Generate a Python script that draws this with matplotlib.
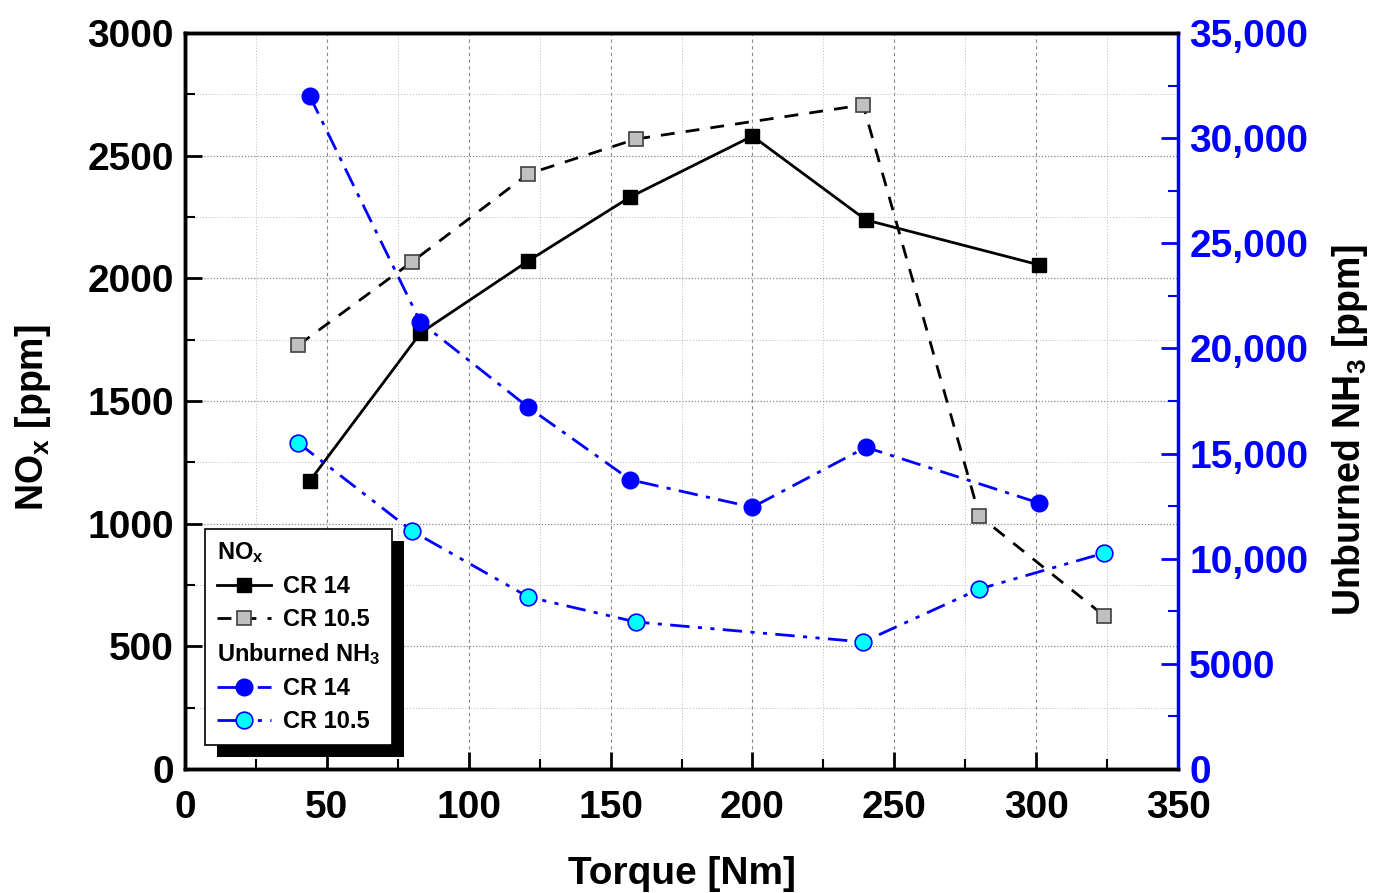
import matplotlib
matplotlib.use("Agg")
import matplotlib.pyplot as plt
from matplotlib.lines import Line2D
from matplotlib.patches import Rectangle
from matplotlib.ticker import MultipleLocator

plt.rcParams['font.family'] = ['Liberation Sans', 'DejaVu Sans']
plt.rcParams['font.weight'] = 'bold'
plt.rcParams['mathtext.fontset'] = 'custom'
plt.rcParams['mathtext.rm'] = 'Liberation Sans:bold'
plt.rcParams['mathtext.bf'] = 'Liberation Sans:bold'
plt.rcParams['mathtext.it'] = 'Liberation Sans:bold'
plt.rcParams['mathtext.default'] = 'bf'

# ---- data ----
torque_cr14 = [44, 83, 121, 157, 200, 240, 301]
torque_cr105 = [40, 80, 121, 159, 239, 280, 324]
nox_cr14 = [1174, 1777, 2071, 2332, 2580, 2238, 2055]
nox_cr105 = [1728, 2067, 2426, 2568, 2707, 1031, 624]
nh3_cr14 = [32000, 21250, 17200, 13750, 12450, 15300, 12650]
nh3_cr105 = [15500, 11320, 8180, 6990, 6040, 8560, 10270]
right_ticks = [0, 5000, 10000, 15000, 20000, 25000, 30000, 35000]
right_ticklabels = ['0', '5000', '10,000', '15,000', '20,000', '25,000', '30,000', '35,000']
left_ticks = [0, 500, 1000, 1500, 2000, 2500, 3000]
x_ticks = [0, 50, 100, 150, 200, 250, 300, 350]

BLUE = '#0000FF'
fig = plt.figure(figsize=(13.74, 8.93), dpi=100)
ax = fig.add_axes([0.1346, 0.1389, 0.7228, 0.8241])
ax2 = ax.twinx()

# grid
ax.set_axisbelow(True)
ax.grid(which='major', axis='x', color='#888888', linestyle=(0, (3, 3)), linewidth=0.8)
ax.grid(which='minor', axis='x', color='#bbbbbb', linestyle=(0, (1, 2)), linewidth=0.7)
ax.grid(which='major', axis='y', color='#888888', linestyle=(0, (1, 1.5)), linewidth=0.9)
ax.grid(which='minor', axis='y', color='#bbbbbb', linestyle=(0, (1, 2)), linewidth=0.7)

l1, = ax.plot(torque_cr14, nox_cr14, color='black', linestyle='-', linewidth=2,
              marker='s', markersize=10, markerfacecolor='black', markeredgecolor='black')
l2, = ax.plot(torque_cr105, nox_cr105, color='black', linestyle=(0, (5, 4)), linewidth=2,
              marker='s', markersize=10, markerfacecolor='#c0c0c0', markeredgecolor='#404040',
              markeredgewidth=1.2)
l3, = ax2.plot(torque_cr14, nh3_cr14, color=BLUE, linestyle=(0, (7, 3, 1.5, 3)), linewidth=2,
               marker='o', markersize=12, markerfacecolor=BLUE, markeredgecolor=BLUE)
l4, = ax2.plot(torque_cr105, nh3_cr105, color=BLUE, linestyle=(0, (7, 3, 1.5, 3, 1.5, 3)), linewidth=2,
               marker='o', markersize=12, markerfacecolor='#00FFFF', markeredgecolor=BLUE,
               markeredgewidth=1.2)

ax.set_xlim(0, 350)
ax.set_ylim(0, 3000)
ax2.set_ylim(0, 35000)

ax.set_xticks(x_ticks)
ax.xaxis.set_minor_locator(MultipleLocator(25))
ax.set_yticks(left_ticks)
ax.yaxis.set_minor_locator(MultipleLocator(250))
ax2.set_yticks(right_ticks)
ax2.set_yticklabels(right_ticklabels)
ax2.yaxis.set_minor_locator(MultipleLocator(2500))

fs = 28
ax.tick_params(axis='both', which='major', direction='in', length=12, width=2, labelsize=fs, pad=8)
ax.tick_params(axis='x', which='major', pad=15)
ax.tick_params(axis='both', which='minor', direction='in', length=7, width=1.5)
ax.tick_params(axis='x', which='both', top=False)
ax.tick_params(axis='y', which='both', right=False)
ax2.tick_params(axis='y', which='major', direction='in', length=12, width=2, labelsize=fs,
                colors=BLUE, pad=8)
ax2.tick_params(axis='y', which='minor', direction='in', length=7, width=1.5, colors=BLUE)
for lab in ax.get_xticklabels() + ax.get_yticklabels() + ax2.get_yticklabels():
    lab.set_fontweight('bold')

for s in ['left', 'bottom', 'top']:
    ax.spines[s].set_linewidth(2.5)
for s in ['left', 'bottom', 'top']:
    ax2.spines[s].set_linewidth(2.5)
ax2.spines['right'].set_color(BLUE)
ax2.spines['right'].set_linewidth(2.5)
ax.spines['right'].set_visible(False)

ax.set_xlabel('Torque [Nm]', fontsize=fs, fontweight='bold', labelpad=22)
ax.set_ylabel('NO$_x$ [ppm]', fontsize=27, fontweight='bold')
ax2.set_ylabel('Unburned NH$_3$ [ppm]', fontsize=27, fontweight='bold')
ax.yaxis.set_label_coords(-0.133, 0.477)
ax2.yaxis.set_label_coords(1.153, 0.46)

# legend
blank = Line2D([], [], linestyle='none', marker='none')
handles = [blank, l1, l2, blank, l3, l4]
labels = ['NO$_x$', 'CR 14', 'CR 10.5', 'Unburned NH$_3$', 'CR 14', 'CR 10.5']
leg = ax2.legend(handles, labels, loc='lower left', bbox_to_anchor=(0.02, 0.033),
                 borderaxespad=0, frameon=True, fancybox=False,
                 edgecolor='black', framealpha=1, handlelength=2.3, handletextpad=0.5,
                 labelspacing=0.42, borderpad=0.5, prop={'weight': 'bold', 'size': 17})
leg.get_frame().set_linewidth(1.2)
leg.set_zorder(10)
# header rows: remove handle space
col = leg._legend_handle_box.get_children()[0]
rows = col.get_children()
for i in (0, 3):
    rows[i].sep = 0
    rows[i].get_children()[0].width = 0

fig.canvas.draw()
bb = leg.get_window_extent()
shadow = Rectangle((bb.x0 + 12, bb.y0 - 12), bb.width, bb.height, transform=None,
                   facecolor='black', edgecolor='none', zorder=9)
ax2.add_artist(shadow)

fig.savefig('out.png', dpi=100)
